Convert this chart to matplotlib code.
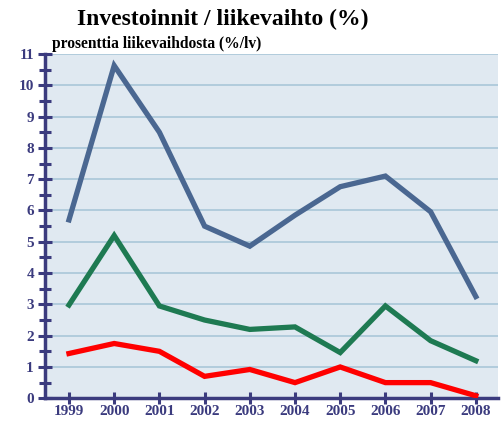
import matplotlib.pyplot as plt
from matplotlib.ticker import MultipleLocator

# Data
years = [1999, 2000, 2001, 2002, 2003, 2004, 2005, 2006, 2007, 2008]
blue_vals = [5.7, 10.63, 8.5, 5.5, 4.86, 5.85, 6.76, 7.1, 5.96, 3.25]
green_vals = [2.98, 5.2, 2.95, 2.5, 2.2, 2.28, 1.46, 2.95, 1.84, 1.2]
red_vals = [1.43, 1.75, 1.5, 0.7, 0.92, 0.5, 1.0, 0.5, 0.5, 0.08]

navy = "#3b3b7e"
serif = ["Liberation Serif", "DejaVu Serif"]

fig = plt.figure(figsize=(5.03, 4.21), dpi=100)
ax = fig.add_axes([0.0895, 0.054, 0.9005, 0.8177])
ax.set_facecolor("#e0e9f1")

for vals, color in [(blue_vals, "#4a6791"), (green_vals, "#1e7a52"), (red_vals, "#ff0000")]:
    ax.plot(years, vals, color=color, linewidth=3.8, solid_joinstyle="miter", zorder=3)

ax.set_xlim(1998.47, 2008.49)
ax.set_ylim(0, 11)
ax.set_xticks(years)
ax.yaxis.set_major_locator(MultipleLocator(1))
ax.yaxis.set_minor_locator(MultipleLocator(0.5))
ax.grid(axis="y", which="major", color="#a9c7d8", linewidth=1.2, zorder=1)

for side in ["top", "right"]:
    ax.spines[side].set_visible(False)
for side in ["left", "bottom"]:
    ax.spines[side].set_color(navy)
    ax.spines[side].set_linewidth(2.5)

ax.tick_params(axis="both", which="both", direction="inout", color=navy, width=2.2)
ax.tick_params(axis="y", which="major", length=10, pad=3)
ax.tick_params(axis="y", which="minor", length=8)
ax.tick_params(axis="x", which="major", length=9, pad=0)

for lbl in ax.get_xticklabels() + ax.get_yticklabels():
    lbl.set_fontfamily(serif)
    lbl.set_fontweight("bold")
    lbl.set_fontsize(11)
    lbl.set_color(navy)

fig.text(0.443, 0.953, "Investoinnit / liikevaihto (%)", ha="center", va="center",
         fontsize=17, fontweight="bold", family=serif, color="black")
fig.text(0.104, 0.895, "prosenttia liikevaihdosta (%/lv)", ha="left", va="center",
         fontsize=11.2, fontweight="bold", family=serif, color="black")

fig.savefig("out.png", dpi=100)
